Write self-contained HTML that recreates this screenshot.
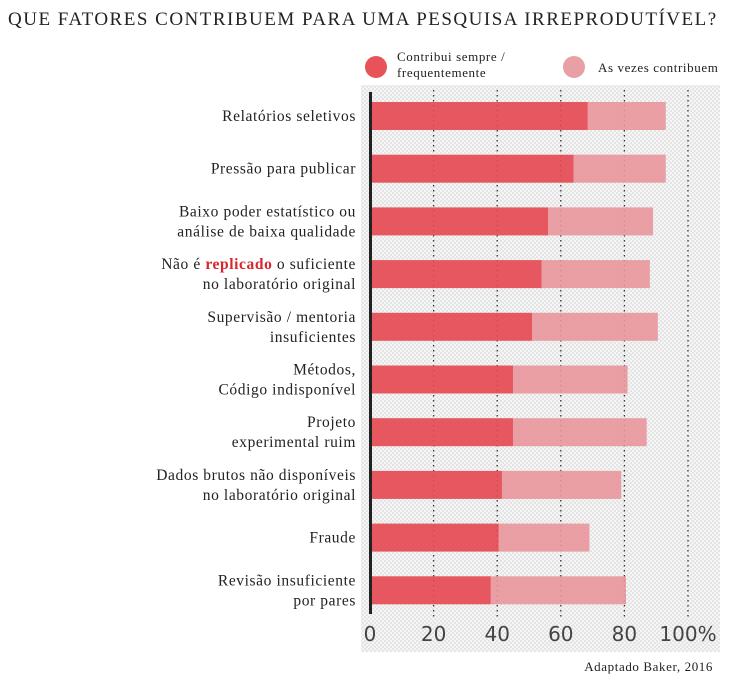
<!DOCTYPE html>
<html><head><meta charset="utf-8"><style>
body{margin:0;background:#fff;width:736px;height:680px;overflow:hidden}
svg{display:block}
.s{font-family:"Liberation Serif",serif;fill:#222}
</style></head><body>
<svg width="736" height="680">
<defs><pattern id="dots" width="4" height="4" patternUnits="userSpaceOnUse"><rect width="4" height="4" fill="#f5f5f5"/><rect width="2" height="2" fill="#e4e4e4"/><rect x="2" y="2" width="2" height="2" fill="#e4e4e4"/></pattern></defs>
<text class="s" x="8" y="25" font-size="19" letter-spacing="1.5">QUE FATORES CONTRIBUEM PARA UMA PESQUISA IRREPRODUTÍVEL?</text>
<circle cx="376" cy="67" r="11" fill="#e8535a"/>
<text class="s" x="397" y="61" font-size="13" letter-spacing="0.6">Contribui sempre /</text>
<text class="s" x="397" y="77" font-size="13" letter-spacing="0.6">frequentemente</text>
<circle cx="574" cy="67" r="11" fill="#e8a0a4"/>
<text class="s" x="598" y="72" font-size="13" letter-spacing="0.6">As vezes contribuem</text>
<rect x="361" y="85" width="359" height="567" fill="url(#dots)"/>
<g id="grid"></g><g id="bars"></g><g id="labels"></g>
<rect x="369" y="92" width="3" height="522" fill="#222"/>
<g id="ticks"></g>
<text class="s" x="713" y="671" font-size="13" letter-spacing="0.6" text-anchor="end">Adaptado Baker, 2016</text>
</svg>
<script>
const categories=[["Relatórios seletivos"],["Pressão para publicar"],["Baixo poder estatístico ou","análise de baixa qualidade"],["Não é |replicado| o suficiente","no laboratório original"],["Supervisão / mentoria","insuficientes"],["Métodos,","Código indisponível"],["Projeto","experimental ruim"],["Dados brutos não disponíveis","no laboratório original"],["Fraude"],["Revisão insuficiente","por pares"]];
const frequent=[68.5,64,56,54,51,45,45,41.5,40.5,38];
const total=[93,93,89,88,90.5,81,87,79,69,80.5];
const tickValues=[0,20,40,60,80,100];
const tickLabels=["0","20","40","60","80","100%"];
const NS="http://www.w3.org/2000/svg";
const x=v=>370+v*3.18;
const yc=i=>116+i*52.7;
function mk(t,a,p){const e=document.createElementNS(NS,t);for(const k in a)e.setAttribute(k,a[k]);p.appendChild(e);return e;}
const grid=document.getElementById('grid'),bars=document.getElementById('bars'),labels=document.getElementById('labels'),ticks=document.getElementById('ticks');
tickValues.forEach((v,i)=>{
 if(v>0){const l=mk('line',{x1:x(v),x2:x(v),y1:90,y2:618,stroke:'#333','stroke-width':1.3,'stroke-dasharray':'1.5,3.5'},grid);
 
 }
 const t=mk('text',{x:x(v),y:641,'font-size':20,'text-anchor':'middle','font-family':'DejaVu Sans, sans-serif',fill:'#444'},ticks);
 t.textContent=tickLabels[i];
 
 
});
categories.forEach((c,i)=>{
 const y=yc(i);
 const b1=mk('rect',{x:372,y:y-14,width:x(frequent[i])-372,height:28,fill:'#e54a52','fill-opacity':0.92},bars);
 
 
 const b2=mk('rect',{x:x(frequent[i]),y:y-14,width:x(total[i])-x(frequent[i]),height:28,fill:'#e8969a','fill-opacity':0.9},bars);
 
 
 c.forEach((line,j)=>{
  const ty=y+5+(c.length==2?(j==0?-10:10):0);
  const t=mk('text',{x:356,y:ty,'font-size':15.5,'letter-spacing':0.6,'text-anchor':'end',class:'s'},labels);
  line.split('|').forEach((part,k)=>{const s=mk('tspan',{},t);s.textContent=part;if(k==1){s.setAttribute('fill','#d7262e');s.setAttribute('font-weight','bold');}});
  
  
 });
});
</script>
</body></html>
